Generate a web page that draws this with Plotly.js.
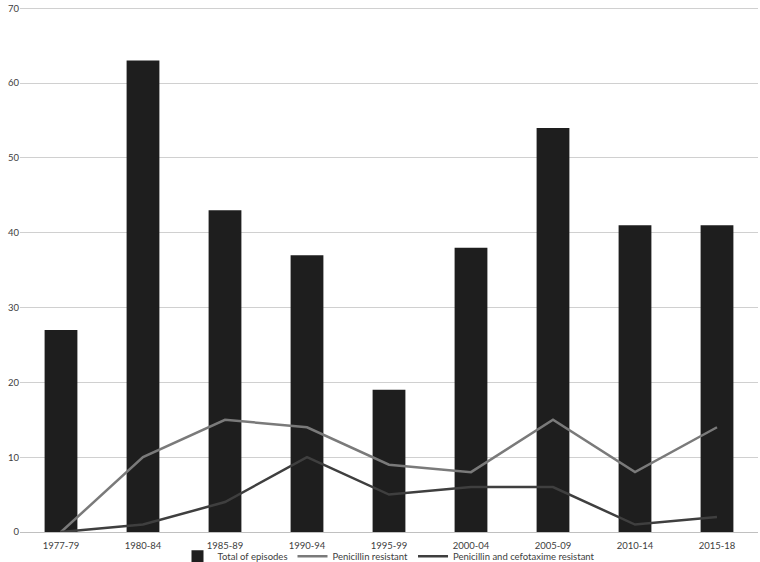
<!DOCTYPE html>
<html><head><meta charset="utf-8">
<script src="https://cdn.plot.ly/plotly-3.0.1.min.js"></script>
<style>html,body{margin:0;padding:0;background:#fff}#chart{width:760px;height:562px}</style>
</head><body><div id="chart"></div>
<script>
const categories = ["1977-79","1980-84","1985-89","1990-94","1995-99","2000-04","2005-09","2010-14","2015-18"];
const totalEpisodes = [27,63,43,37,19,38,54,41,41];
const penicillinResistant = [0,10,15,14,9,8,15,8,14];
const penCefResistant = [0,1,4,10,5,6,6,1,2];

const traces = [
  {type:"bar", x:categories, y:totalEpisodes, name:"Total of episodes", marker:{color:"#1e1e1e"}},
  {type:"scatter", mode:"lines", x:categories, y:penicillinResistant, name:"Penicillin resistant", line:{color:"#7a7a7a", width:2.5}},
  {type:"scatter", mode:"lines", x:categories, y:penCefResistant, name:"Penicillin and cefotaxime resistant", line:{color:"#3f3f3f", width:2.5}}
];
const layout = {
  width:760, height:562,
  margin:{l:20, r:2, t:6, b:30, autoexpand:false},
  paper_bgcolor:"#fff", plot_bgcolor:"#fff",
  font:{family:"Lato, Open Sans, sans-serif", size:9.5, color:"#404040"},
  bargap:0.6,
  showlegend:true,
  legend:{orientation:"h", x:0.5, xanchor:"center", y:-0.046, yanchor:"middle", bgcolor:"rgba(0,0,0,0)", font:{size:9.5, color:"#404040"}, itemwidth:30, tracegroupgap:0},
  xaxis:{type:"category", showgrid:false, showline:true, linecolor:"#c0c0c0", linewidth:1, ticks:"", ticklabelstandoff:5, tickfont:{size:9.5, color:"#404040"}, zeroline:false},
  yaxis:{range:[0,70.3], tickvals:[0,10,20,30,40,50,60,70], showgrid:true, gridcolor:"#d0d0d0", gridwidth:1, zeroline:false, ticks:"", tickfont:{size:9.5, color:"#404040"}, showline:false}
};
Plotly.newPlot("chart", traces, layout, {displayModeBar:false, staticPlot:true});
</script></body></html>
